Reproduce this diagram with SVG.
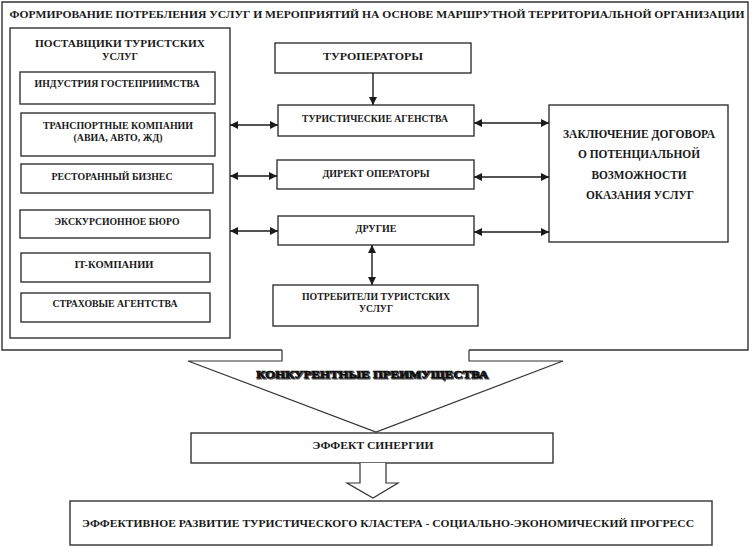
<svg xmlns="http://www.w3.org/2000/svg" width="752" height="547" viewBox="0 0 752 547">
<style>
.b{fill:#fff;stroke:#333;stroke-width:1.4}
.t{font-family:"Liberation Serif","Times New Roman",serif;font-weight:bold;font-size:10px;fill:#1a1a1a;text-anchor:middle}
.l{font-size:13px}
.c{stroke:#1a1a1a;stroke-width:1.4;fill:none}
</style>
<defs>
<marker id="ah" viewBox="0 0 10 10" refX="10" refY="5" markerWidth="9" markerHeight="8" markerUnits="userSpaceOnUse" orient="auto-start-reverse">
<path d="M0,0 L10,5 L0,10 z" fill="#1a1a1a"/>
</marker>
</defs>
<rect width="752" height="547" fill="#fff"/>
<g id="frame">
<path d="M469,350 H748 V2 H2 V350 H282" class="b" fill="none"/>
<text class="t" x="377" y="18" font-size="11" textLength="735" lengthAdjust="spacingAndGlyphs">ФОРМИРОВАНИЕ ПОТРЕБЛЕНИЯ УСЛУГ И МЕРОПРИЯТИЙ НА ОСНОВЕ МАРШРУТНОЙ ТЕРРИТОРИАЛЬНОЙ ОРГАНИЗАЦИИ</text>
</g>
<g id="suppliers">
<rect class="b" x="10" y="28" width="220" height="310"/>
<text class="t" x="120" y="47" font-size="12" textLength="170" lengthAdjust="spacingAndGlyphs">ПОСТАВЩИКИ ТУРИСТСКИХ</text>
<text class="t" x="120" y="60" font-size="12" textLength="36" lengthAdjust="spacingAndGlyphs">УСЛУГ</text>
</g>
<g id="hospitality">
<rect class="b" x="20" y="72" width="195" height="32"/>
<text class="t" x="117" y="87" textLength="165" lengthAdjust="spacingAndGlyphs">ИНДУСТРИЯ ГОСТЕПРИИМСТВА</text>
</g>
<g id="transport">
<rect class="b" x="21" y="113" width="194" height="43"/>
<text class="t" x="118" y="129" textLength="150" lengthAdjust="spacingAndGlyphs">ТРАНСПОРТНЫЕ КОМПАНИИ</text>
<text class="t" x="118" y="141" textLength="89" lengthAdjust="spacingAndGlyphs">(АВИА, АВТО, ЖД)</text>
</g>
<g id="restaurant">
<rect class="b" x="21" y="164" width="192" height="29"/>
<text class="t" x="112" y="180" textLength="121" lengthAdjust="spacingAndGlyphs">РЕСТОРАННЫЙ БИЗНЕС</text>
</g>
<g id="excursion">
<rect class="b" x="20" y="210" width="190" height="28"/>
<text class="t" x="117" y="225" textLength="125" lengthAdjust="spacingAndGlyphs">ЭКСКУРСИОННОЕ БЮРО</text>
</g>
<g id="it">
<rect class="b" x="21" y="253" width="189" height="29"/>
<text class="t" x="114" y="268" textLength="79" lengthAdjust="spacingAndGlyphs">IT-КОМПАНИИ</text>
</g>
<g id="insurance">
<rect class="b" x="21" y="293" width="189" height="29"/>
<text class="t" x="115" y="307" textLength="125" lengthAdjust="spacingAndGlyphs">СТРАХОВЫЕ АГЕНТСТВА</text>
</g>
<g id="touroperators">
<rect class="b" x="275" y="43" width="196" height="30"/>
<text class="t" x="373" y="60" textLength="100" lengthAdjust="spacingAndGlyphs">ТУРОПЕРАТОРЫ</text>
</g>
<g id="agencies">
<rect class="b" x="278" y="105" width="196" height="31"/>
<text class="t" x="375" y="122" textLength="146" lengthAdjust="spacingAndGlyphs">ТУРИСТИЧЕСКИЕ АГЕНСТВА</text>
</g>
<g id="direct">
<rect class="b" x="277" y="160" width="197" height="29"/>
<text class="t" x="376" y="177" textLength="107" lengthAdjust="spacingAndGlyphs">ДИРЕКТ ОПЕРАТОРЫ</text>
</g>
<g id="others">
<rect class="b" x="278" y="216" width="196" height="29"/>
<text class="t" x="376" y="232" textLength="41" lengthAdjust="spacingAndGlyphs">ДРУГИЕ</text>
</g>
<g id="consumers">
<rect class="b" x="273" y="285" width="205" height="41"/>
<text class="t" x="376" y="300" textLength="148" lengthAdjust="spacingAndGlyphs">ПОТРЕБИТЕЛИ ТУРИСТСКИХ</text>
<text class="t" x="376" y="312" textLength="34" lengthAdjust="spacingAndGlyphs">УСЛУГ</text>
</g>
<g id="contract">
<rect class="b" x="549" y="105" width="179" height="137"/>
<text class="t l" x="639" y="138" textLength="152" lengthAdjust="spacingAndGlyphs">ЗАКЛЮЧЕНИЕ ДОГОВОРА</text>
<text class="t l" x="639" y="158" textLength="122" lengthAdjust="spacingAndGlyphs">О ПОТЕНЦИАЛЬНОЙ</text>
<text class="t l" x="639" y="179" textLength="95" lengthAdjust="spacingAndGlyphs">ВОЗМОЖНОСТИ</text>
<text class="t l" x="640" y="199" textLength="108" lengthAdjust="spacingAndGlyphs">ОКАЗАНИЯ УСЛУГ</text>
</g>
<g id="connectors">
<path class="c" d="M373,73 V105" marker-end="url(#ah)"/>
<path class="c" d="M230,125 H278" marker-start="url(#ah)" marker-end="url(#ah)"/>
<path class="c" d="M230,176 H277" marker-start="url(#ah)" marker-end="url(#ah)"/>
<path class="c" d="M230,231 H278" marker-start="url(#ah)" marker-end="url(#ah)"/>
<path class="c" d="M474,123 H549" marker-start="url(#ah)" marker-end="url(#ah)"/>
<path class="c" d="M474,177 H549" marker-start="url(#ah)" marker-end="url(#ah)"/>
<path class="c" d="M474,232 H549" marker-start="url(#ah)" marker-end="url(#ah)"/>
<path class="c" d="M372,245 V285" marker-start="url(#ah)" marker-end="url(#ah)"/>
</g>
<g id="advantages">
<path d="M282,350 V361 H188 L376,432 L563,361 H469 V350" fill="#fff" stroke="#333" stroke-width="1.2"/>
<text class="t" x="373" y="379" font-size="18" fill="#555" textLength="232" lengthAdjust="spacingAndGlyphs" stroke="#555" stroke-width="0.9">КОНКУРЕНТНЫЕ ПРЕИМУЩЕСТВА</text>
<text class="t" x="372" y="378" font-size="18" fill="#000" textLength="232" lengthAdjust="spacingAndGlyphs" stroke="#000" stroke-width="0.4">КОНКУРЕНТНЫЕ ПРЕИМУЩЕСТВА</text>
</g>
<g id="synergy">
<rect class="b" x="191" y="433" width="362" height="30"/>
<text class="t" x="373" y="449" textLength="121" lengthAdjust="spacingAndGlyphs">ЭФФЕКТ СИНЕРГИИ</text>
</g>
<g id="hollow-arrow">
<path d="M360,463 V483 H347 L373,498 L398,483 H386 V463" fill="#fff" stroke="#333" stroke-width="1.2"/>
</g>
<g id="development">
<rect class="b" x="70" y="501" width="642" height="44"/>
<text class="t" x="388" y="527" textLength="612" lengthAdjust="spacingAndGlyphs">ЭФФЕКТИВНОЕ РАЗВИТИЕ ТУРИСТИЧЕСКОГО КЛАСТЕРА - СОЦИАЛЬНО-ЭКОНОМИЧЕСКИЙ ПРОГРЕСС</text>
</g>
</svg>
